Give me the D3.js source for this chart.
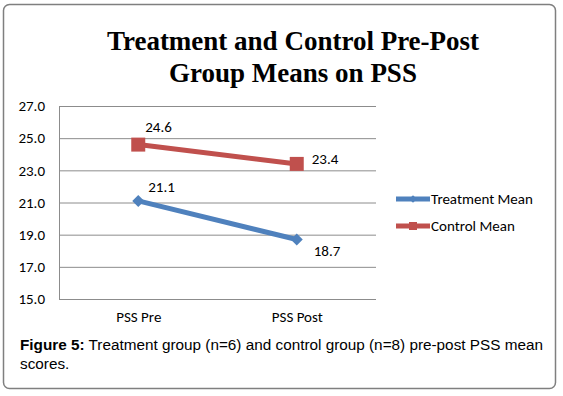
<!DOCTYPE html>
<html>
<head>
<meta charset="utf-8">
<script src="https://cdn.jsdelivr.net/npm/d3@7"></script>
<style>
  body { margin: 0; background: #fff; }
  svg { display: block; }
</style>
</head>
<body>
<script>
const width = 563;
const height = 396;

const categories = ["PSS Pre", "PSS Post"];
const treatmentMean = [21.1, 18.7];
const controlMean = [24.6, 23.4];
const yTicks = [15, 17, 19, 21, 23, 25, 27];

const series = [
    { name: "Treatment Mean", values: treatmentMean, color: "#4F81BD", marker: "diamond" },
    { name: "Control Mean", values: controlMean, color: "#C0504D", marker: "square" }
];

const svg = d3.select(document.body).append("svg")
    .attr("width", width)
    .attr("height", height);

// outer frame
svg.append("rect")
    .attr("x", 3.5).attr("y", 4.5)
    .attr("width", 552).attr("height", 384)
    .attr("rx", 6)
    .attr("fill", "#fff")
    .attr("stroke", "#7f7f7f")
    .attr("stroke-width", 1.5);

// title
const title = svg.append("text")
    .attr("text-anchor", "middle")
    .attr("font-family", "Liberation Serif, Times New Roman, serif")
    .attr("font-weight", "bold")
    .attr("font-size", 27)
    .attr("fill", "#000");
title.append("tspan").attr("x", 293).attr("y", 50).text("Treatment and Control Pre-Post");
title.append("tspan").attr("x", 293).attr("y", 82).text("Group Means on PSS");

const plot = { left: 59, right: 376, top: 106, bottom: 299 };

const x = d3.scalePoint()
    .domain(categories)
    .range([plot.left, plot.right])
    .padding(0.5);

const y = d3.scaleLinear()
    .domain([15, 27])
    .range([plot.bottom, plot.top]);

const font = "Carlito, Calibri, 'Open Sans', sans-serif";
const fs = 15;

// gridlines + y axis
const yAxis = svg.append("g")
    .attr("transform", `translate(${plot.left},0)`)
    .call(d3.axisLeft(y).tickValues(yTicks).tickFormat(d3.format(".1f"))
        .tickSize(-(plot.right - plot.left)).tickPadding(14));
yAxis.select(".domain").remove();
yAxis.selectAll("line").attr("stroke", "#8c8c8c").attr("stroke-width", 1);
yAxis.selectAll("text")
    .attr("font-family", font)
    .attr("font-size", fs)
    .attr("fill", "#000");

// plot left border
svg.append("line")
    .attr("x1", plot.left + 0.5).attr("x2", plot.left + 0.5)
    .attr("y1", plot.top).attr("y2", plot.bottom)
    .attr("stroke", "#8c8c8c");

// x axis labels
const xAxis = svg.append("g")
    .attr("transform", `translate(0,${plot.bottom})`)
    .call(d3.axisBottom(x).tickSize(0).tickPadding(12));
xAxis.select(".domain").remove();
xAxis.selectAll("text")
    .attr("font-family", font)
    .attr("font-size", fs)
    .attr("fill", "#000");

const line = d3.line()
    .x((d, i) => x(categories[i]))
    .y(d => y(d));

const symbolFor = m => m === "diamond"
    ? d3.symbol().type(d3.symbolSquare).size(72)
    : d3.symbol().type(d3.symbolSquare).size(196);

series.forEach(s => {
    svg.append("path")
        .datum(s.values)
        .attr("d", line)
        .attr("fill", "none")
        .attr("stroke", s.color)
        .attr("stroke-width", 5);

    svg.selectAll(null)
        .data(s.values)
        .join("path")
        .attr("d", symbolFor(s.marker))
        .attr("transform", (d, i) => `translate(${x(categories[i])},${y(d)})` + (s.marker === "diamond" ? " rotate(45)" : ""))
        .attr("fill", s.color);
});

// data labels
const labelOffsets = {
    "Treatment Mean": [[10, -9], [17, 17]],
    "Control Mean": [[7, -13], [15, 0]]
};
series.forEach(s => {
    svg.selectAll(null)
        .data(s.values)
        .join("text")
        .attr("x", (d, i) => x(categories[i]) + labelOffsets[s.name][i][0])
        .attr("y", (d, i) => y(d) + labelOffsets[s.name][i][1])
        .attr("font-family", font)
        .attr("font-size", fs)
        .attr("fill", "#000")
        .text(d => d3.format(".1f")(d));
});

// legend
const legend = svg.append("g").attr("transform", "translate(396,199)");
series.forEach((s, i) => {
    const g = legend.append("g").attr("transform", `translate(0,${i * 27})`);
    g.append("line")
        .attr("x1", 0).attr("x2", 34)
        .attr("stroke", s.color)
        .attr("stroke-width", 5);
    g.append("path")
        .attr("d", symbolFor(s.marker).size(s.marker === "diamond" ? 30 : 64))
        .attr("transform", "translate(17,0)" + (s.marker === "diamond" ? " rotate(45)" : ""))
        .attr("fill", s.color);
    g.append("text")
        .attr("x", 35).attr("y", 0)
        .attr("dy", "0.35em")
        .attr("font-family", font)
        .attr("font-size", fs)
        .attr("fill", "#000")
        .text(s.name);
});

// caption
const cap = svg.append("text")
    .attr("font-family", "Liberation Sans, Arial, sans-serif")
    .attr("font-size", 15.3)
    .attr("fill", "#000");
const l1 = cap.append("tspan").attr("x", 20).attr("y", 350);
l1.append("tspan").attr("font-weight", "bold").text("Figure 5:");
l1.append("tspan").text(" Treatment group (n=6) and control group (n=8) pre-post PSS mean");
cap.append("tspan").attr("x", 20).attr("y", 369).text("scores.");
</script>
</body>
</html>
